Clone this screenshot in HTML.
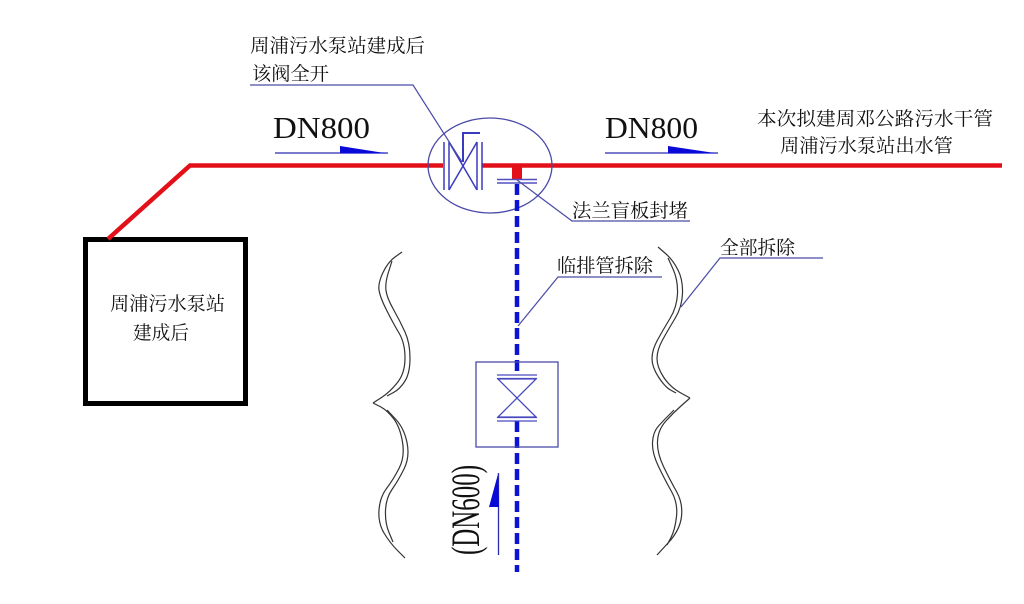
<!DOCTYPE html>
<html>
<head>
<meta charset="utf-8">
<style>
  html, body { margin: 0; padding: 0; background: #ffffff; }
  body { width: 1024px; height: 604px; overflow: hidden; }
  svg { display: block; }
  .cn { font-family: "Liberation Serif", "Noto Serif CJK SC", serif; font-size: 19px; fill: #111; }
  .dn { font-family: "Liberation Serif", serif; fill: #111; }
</style>
</head>
<body>
<svg width="1024" height="604" viewBox="0 0 1024 604" xmlns="http://www.w3.org/2000/svg">
  <rect x="0" y="0" width="1024" height="604" fill="#ffffff"/>

  <!-- Pump station box -->
  <rect x="85.5" y="239.5" width="160" height="164" fill="none" stroke="#000" stroke-width="5"/>
  <text class="cn" x="110" y="310" textLength="115" lengthAdjust="spacingAndGlyphs">周浦污水泵站</text>
  <text class="cn" x="133" y="339" textLength="56" lengthAdjust="spacingAndGlyphs">建成后</text>

  <!-- Red main pipe -->
  <polyline points="108,239 190,165.5 443,165.5" fill="none" stroke="#e3101a" stroke-width="4.5" stroke-linejoin="miter"/>
  <line x1="482" y1="165.5" x2="1002" y2="165.5" stroke="#e3101a" stroke-width="4.5"/>

  <!-- Ellipse around valve -->
  <ellipse cx="490" cy="165.5" rx="62" ry="47.5" fill="none" stroke="#4a4aa8" stroke-width="1.3"/>

  <!-- Gate valve in ellipse -->
  <g stroke="#3a3ac0" stroke-width="1.5" fill="none">
    <line x1="444" y1="142" x2="444" y2="190"/>
    <line x1="449" y1="142" x2="449" y2="190"/>
    <line x1="477" y1="142" x2="477" y2="190"/>
    <line x1="482" y1="142" x2="482" y2="190"/>
    <line x1="449" y1="142" x2="477" y2="190"/>
    <line x1="449" y1="190" x2="477" y2="142"/>
    <polyline points="463,162 463,133 480,133" stroke-width="2"/>
  </g>

  <!-- Flange blind plate -->
  <rect x="512" y="166" width="10" height="13" fill="#e3101a"/>
  <line x1="497" y1="179.5" x2="537" y2="179.5" stroke="#5050c0" stroke-width="1.4"/>
  <line x1="497" y1="183" x2="537" y2="183" stroke="#5050c0" stroke-width="1.4"/>

  <!-- Blue dashed temporary pipe -->
  <line x1="517" y1="184" x2="517" y2="375" stroke="#0a14d2" stroke-width="4.5" stroke-dasharray="11 5"/>
  <line x1="517" y1="421" x2="517" y2="572" stroke="#0a14d2" stroke-width="4.5" stroke-dasharray="11 5"/>

  <!-- Lower valve box -->
  <rect x="476" y="362" width="82" height="85" fill="none" stroke="#4a4aa8" stroke-width="1.3"/>
  <g stroke="#4a4ac0" stroke-width="1.3" fill="#ffffff">
    <line x1="497" y1="375" x2="537" y2="375"/>
    <line x1="497" y1="378.5" x2="537" y2="378.5"/>
    <line x1="497" y1="417.5" x2="537" y2="417.5"/>
    <line x1="497" y1="421" x2="537" y2="421"/>
    <polygon points="498,379 536,379 517,398"/>
    <polygon points="498,417 536,417 517,398"/>
  </g>

  <!-- Flow arrows -->
  <line x1="275" y1="153" x2="388" y2="153" stroke="#2b2bb0" stroke-width="1.3"/>
  <polygon points="340,146 340,153.5 388,153.5" fill="#0a0ad8"/>
  <line x1="605" y1="153" x2="718" y2="153" stroke="#2b2bb0" stroke-width="1.3"/>
  <polygon points="668,146 668,153.5 718,153.5" fill="#0a0ad8"/>
  <line x1="498.5" y1="473" x2="498.5" y2="555" stroke="#2b2bb0" stroke-width="1.3"/>
  <polygon points="498,474 489,507 499,507" fill="#0a0ad8"/>

  <!-- DN labels -->
  <text class="dn" x="273" y="138" font-size="31" textLength="97" lengthAdjust="spacingAndGlyphs">DN800</text>
  <text class="dn" x="605" y="138" font-size="31" textLength="93" lengthAdjust="spacingAndGlyphs">DN800</text>
  <text class="dn" font-size="40" text-anchor="middle" transform="translate(479,510) rotate(-90)" textLength="90" lengthAdjust="spacingAndGlyphs">(DN600)</text>

  <!-- Top-left label + leader -->
  <text class="cn" x="250" y="52" textLength="175" lengthAdjust="spacingAndGlyphs">周浦污水泵站建成后</text>
  <text class="cn" x="252" y="80" textLength="77" lengthAdjust="spacingAndGlyphs">该阀全开</text>
  <polyline points="250,85 413,85 462,162" fill="none" stroke="#4a4aa8" stroke-width="1.2"/>

  <!-- Right label -->
  <text class="cn" x="757" y="125" textLength="236" lengthAdjust="spacingAndGlyphs">本次拟建周邓公路污水干管</text>
  <text class="cn" x="780" y="152" textLength="173" lengthAdjust="spacingAndGlyphs">周浦污水泵站出水管</text>

  <!-- Flange label + leader -->
  <text class="cn" x="572" y="217" textLength="116" lengthAdjust="spacingAndGlyphs">法兰盲板封堵</text>
  <polyline points="690,221 572,221 517,180" fill="none" stroke="#4a4aa8" stroke-width="1.2"/>

  <!-- Temporary pipe label + leader -->
  <text class="cn" x="557" y="272" textLength="96" lengthAdjust="spacingAndGlyphs">临排管拆除</text>
  <polyline points="662,277 558,277 518,326" fill="none" stroke="#4a4aa8" stroke-width="1.2"/>

  <!-- Remove-all label + leader -->
  <text class="cn" x="720" y="254" textLength="75" lengthAdjust="spacingAndGlyphs">全部拆除</text>
  <polyline points="823,258 720,258 681,307" fill="none" stroke="#4a4aa8" stroke-width="1.2"/>

  <!-- Left brace (double line, smooth) -->
  <g fill="none" stroke="#333" stroke-width="1.2" stroke-linejoin="round">
    <path d="M402,252 L395,257 Q388,262 383,272.5 Q378,283 379,290 Q380,297 386.5,310 Q393,323 399,333 Q405,343 405,358 Q405,373 397.5,382.5 Q390,392 381.5,397.5 L373,403"/>
    <path d="M373,403 L380,406.5 Q387,410 393.5,418.5 Q400,427 402.5,442 Q405,457 399,468.5 Q393,480 386.5,488.5 Q380,497 379,510 Q378,523 384,533 Q390,543 397.5,550.5 L405,558"/>
    <path d="M392,261 L388.5,272 Q385,283 386,290.5 Q387,298 393.5,309.5 Q400,321 405,332 Q410,343 410,358 Q410,373 405,381 Q400,389 393.5,392.5 L387,396"/>
    <path d="M387,410 L395.5,419 Q404,428 407,442.5 Q410,457 404,469 Q398,481 392,489.5 Q386,498 385.5,510.5 Q385,523 389,532.5 L393,542"/>
  </g>

  <!-- Right brace (double line, smooth) -->
  <g fill="none" stroke="#333" stroke-width="1.2" stroke-linejoin="round">
    <path d="M658,247 L665.5,253.5 Q673,260 678,270 Q683,280 682.5,293.5 Q682,307 675,318.5 Q668,330 662.5,340 Q657,350 657,358.5 Q657,367 663.5,377 Q670,387 680,392.5 L690,398"/>
    <path d="M690,398 L681.5,405.5 Q673,413 665.5,421.5 Q658,430 657.5,441.5 Q657,453 663.5,466.5 Q670,480 676.5,491.5 Q683,503 681.5,516.5 Q680,530 668.5,542.5 L657,555"/>
    <path d="M668,258 L673,269 Q678,280 677.5,293.5 Q677,307 670,318.5 Q663,330 657.5,340 Q652,350 652,358.5 Q652,367 658.5,377 Q665,387 670.5,390 L676,393"/>
    <path d="M674,410 L669,415 Q664,420 658.5,426 Q653,432 652.5,442.5 Q652,453 658.5,466.5 Q665,480 671.5,491.5 Q678,503 676.5,516.5 Q675,530 671,537.5 L667,545"/>
  </g>
</svg>
</body>
</html>
